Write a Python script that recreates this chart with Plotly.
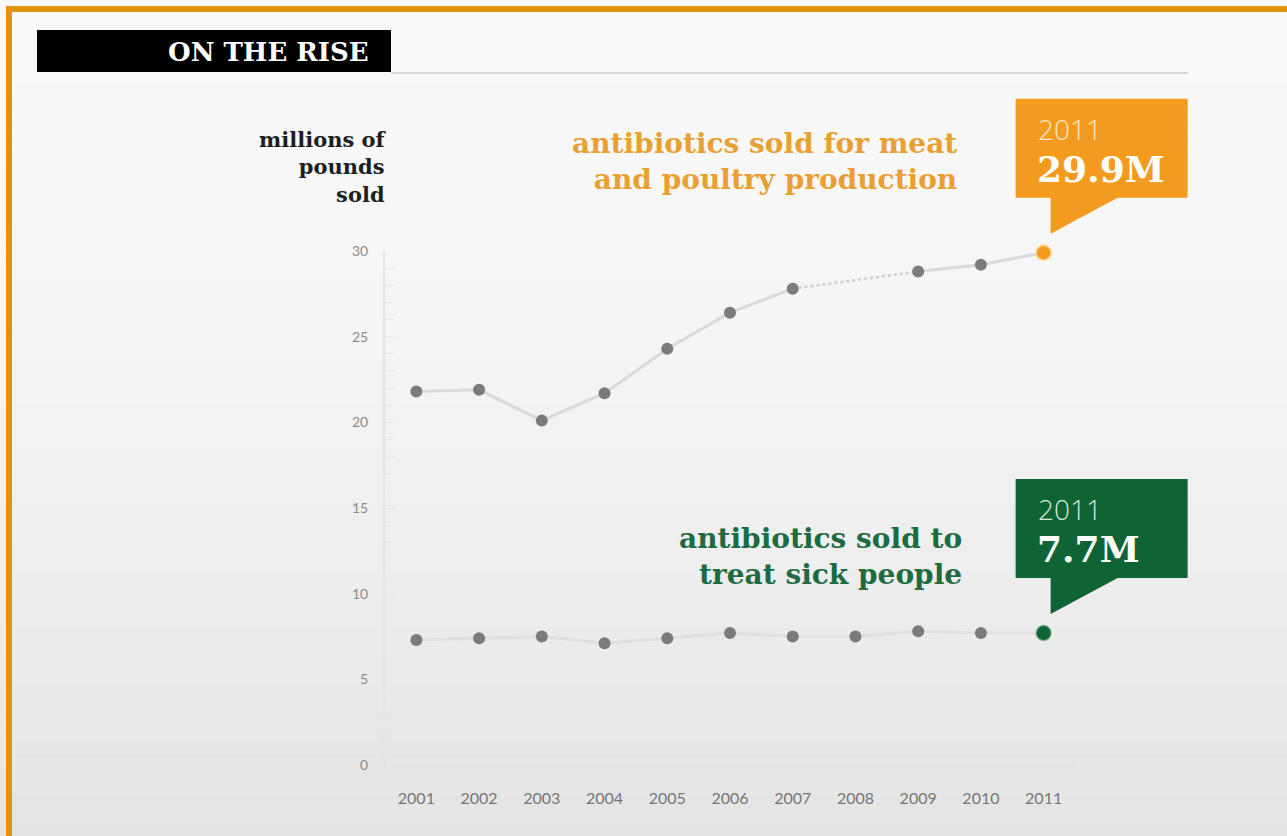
import plotly.graph_objects as go

# ---------------- data ----------------
years = [2001, 2002, 2003, 2004, 2005, 2006, 2007, 2008, 2009, 2010, 2011]
meat_poultry = [21.8, 21.9, 20.1, 21.7, 24.3, 26.4, 27.8, None, 28.8, 29.2, 29.9]
human_use = [7.3, 7.4, 7.5, 7.1, 7.4, 7.7, 7.5, 7.5, 7.8, 7.7, 7.7]
y_ticks = [0, 5, 10, 15, 20, 25, 30]

title_text = "ON THE RISE"
y_title = "millions of<br>pounds<br>sold"
meat_label = "antibiotics sold for meat<br>and poultry production"
human_label = "antibiotics sold to<br>treat sick people"

# ---------------- styling ----------------
W, H = 1287, 836
ORANGE = "#F29B1E"
ORANGE_TXT = "#E9A032"
GREEN = "#0E6435"
GREEN_TXT = "#1C6B41"
DOT = "#7B7B7B"
LINE = "#DADADA"
SERIF = "DejaVu Serif"
SANS = "Lato"


def px(x):
    return x / W


def py(y):
    return 1 - y / H


X_DOM = [px(385), px(1075)]
X_RANGE = [2000.5, 2011.5]
Y_DOM = [py(765), py(251)]
Y_RANGE = [0, 30]


def to_paper_x(v):
    return X_DOM[0] + (v - X_RANGE[0]) / (X_RANGE[1] - X_RANGE[0]) * (X_DOM[1] - X_DOM[0])


def to_paper_y(v):
    return Y_DOM[0] + (v - Y_RANGE[0]) / (Y_RANGE[1] - Y_RANGE[0]) * (Y_DOM[1] - Y_DOM[0])


fig = go.Figure()

# ---- meat & poultry series: solid segments, dotted bridge over missing year
fig.add_trace(go.Scatter(
    x=years, y=meat_poultry, mode="lines", connectgaps=False,
    line=dict(color=LINE, width=3), hoverinfo="skip", showlegend=False))
gap = meat_poultry.index(None)
fig.add_trace(go.Scatter(
    x=[years[gap - 1], years[gap + 1]], y=[meat_poultry[gap - 1], meat_poultry[gap + 1]],
    mode="lines", line=dict(color="#CFCFCF", width=2.5, dash="dot"),
    hoverinfo="skip", showlegend=False))
fig.add_trace(go.Scatter(
    x=years[:-1], y=meat_poultry[:-1], mode="markers",
    marker=dict(color=DOT, size=12), showlegend=False, cliponaxis=False))
fig.add_trace(go.Scatter(
    x=years[-1:], y=meat_poultry[-1:], mode="markers",
    marker=dict(color=ORANGE, size=15, line=dict(color="rgba(255,214,150,0.8)", width=2)),
    showlegend=False, cliponaxis=False))

# ---- human series
fig.add_trace(go.Scatter(
    x=years, y=human_use, mode="lines",
    line=dict(color="#E0E0E0", width=3), hoverinfo="skip", showlegend=False))
fig.add_trace(go.Scatter(
    x=years[:-1], y=human_use[:-1], mode="markers",
    marker=dict(color=DOT, size=12), showlegend=False, cliponaxis=False))
fig.add_trace(go.Scatter(
    x=years[-1:], y=human_use[-1:], mode="markers",
    marker=dict(color=GREEN, size=15, line=dict(color="rgba(120,170,140,0.6)", width=1.5)),
    showlegend=False, cliponaxis=False))

shapes = []
# background gradient bands
N = 60
for i in range(N):
    t = i / (N - 1)
    v = round(249 - 21 * (t ** 1.6))
    shapes.append(dict(type="rect", xref="paper", yref="paper", layer="below",
                       x0=0, x1=1, y0=1 - (i + 1) / N, y1=1 - i / N,
                       fillcolor=f"rgb({v},{v},{min(v + 1, 255)})", line=dict(width=0)))
# orange frame (top + left)
shapes.append(dict(type="rect", xref="paper", yref="paper", x0=px(6), x1=1, y0=py(12), y1=py(6),
                   fillcolor="#E2930E", line=dict(width=0)))
shapes.append(dict(type="rect", xref="paper", yref="paper", x0=px(6), x1=px(12), y0=0, y1=py(6),
                   fillcolor="#E2930E", line=dict(width=0)))
# title bar + rule
shapes.append(dict(type="rect", xref="paper", yref="paper", x0=px(37), x1=px(391), y0=py(72), y1=py(30),
                   fillcolor="#000000", line=dict(width=0)))
shapes.append(dict(type="line", xref="paper", yref="paper", x0=px(391), x1=px(1188), y0=py(73), y1=py(73),
                   line=dict(color="#CFCFCF", width=1.5)))

# callout boxes anchored at the last data points (pixel offsets from the point)
callout_path = "M -28,55 L -28,154 L 144,154 L 144,55 L 74,55 L 7,19 L 7,55 Z"
for val, col in [(meat_poultry[-1], ORANGE), (human_use[-1], GREEN)]:
    shapes.append(dict(type="path", xref="paper", yref="paper", xsizemode="pixel", ysizemode="pixel",
                       xanchor=to_paper_x(years[-1]), yanchor=to_paper_y(val), path=callout_path,
                       fillcolor=col, line=dict(width=0), layer="above"))

annotations = [
    dict(xref="paper", yref="paper", x=px(371), y=py(52), text=f"<b>{title_text}</b>",
         showarrow=False, xanchor="right", yanchor="middle",
         font=dict(family=SERIF, size=26, color="white")),
    dict(xref="paper", yref="paper", x=px(389), y=py(167), text=y_title, align="right",
         showarrow=False, xanchor="right", yanchor="middle",
         font=dict(family=SERIF, size=21, color="#1E1E1E", weight="bold")),
    dict(xref="paper", yref="paper", x=px(959), y=py(161), text=meat_label, align="right",
         showarrow=False, xanchor="right", yanchor="middle",
         font=dict(family=SERIF, size=28, color=ORANGE_TXT, weight="bold")),
    dict(xref="paper", yref="paper", x=px(964), y=py(556), text=human_label, align="right",
         showarrow=False, xanchor="right", yanchor="middle",
         font=dict(family=SERIF, size=28, color=GREEN_TXT, weight="bold")),
]
for val, yr_col in [(meat_poultry[-1], "#FCE6C6"), (human_use[-1], "#D6E6DB")]:
    annotations.append(dict(xref="x", yref="y", x=years[-1], y=val, xshift=-8, yshift=124,
                            text=str(years[-1]), showarrow=False, xanchor="left", yanchor="middle",
                            font=dict(family="Open Sans", size=28, color=yr_col, weight=300)))
    annotations.append(dict(xref="x", yref="y", x=years[-1], y=val, xshift=-9, yshift=84,
                            text=f"<b>{val}M</b>", showarrow=False, xanchor="left", yanchor="middle",
                            font=dict(family=SERIF, size=36, color="white")))

fig.update_layout(
    width=W, height=H, autosize=False,
    margin=dict(l=0, r=0, t=0, b=0, pad=0),
    paper_bgcolor="#F2F2F2", plot_bgcolor="rgba(0,0,0,0)",
    shapes=shapes, annotations=annotations,
    xaxis=dict(domain=X_DOM, range=X_RANGE, automargin=False,
               tickmode="array", tickvals=years, ticktext=[str(y) for y in years],
               showgrid=False, zeroline=False, showline=True, linecolor="#E3E3E3", linewidth=2,
               ticks="", ticklabelstandoff=18,
               tickfont=dict(family=SANS, size=16, color="#767676")),
    yaxis=dict(domain=Y_DOM, range=Y_RANGE, automargin=False,
               tickmode="array", tickvals=y_ticks,
               showgrid=False, zeroline=False, showline=True, linecolor="#E3E3E3", linewidth=2,
               ticks="inside", ticklen=11, tickcolor="#E6E6E6", tickwidth=1,
               minor=dict(dtick=1, ticks="inside", ticklen=9, tickcolor="#E8E8E8", tickwidth=1),
               ticklabelstandoff=12,
               tickfont=dict(family=SANS, size=14, color="#8A8A8A")),
)

fig.write_html("out.html", config={"displayModeBar": False},
               post_script="document.body.style.margin='0px';document.body.style.overflow='hidden';")
